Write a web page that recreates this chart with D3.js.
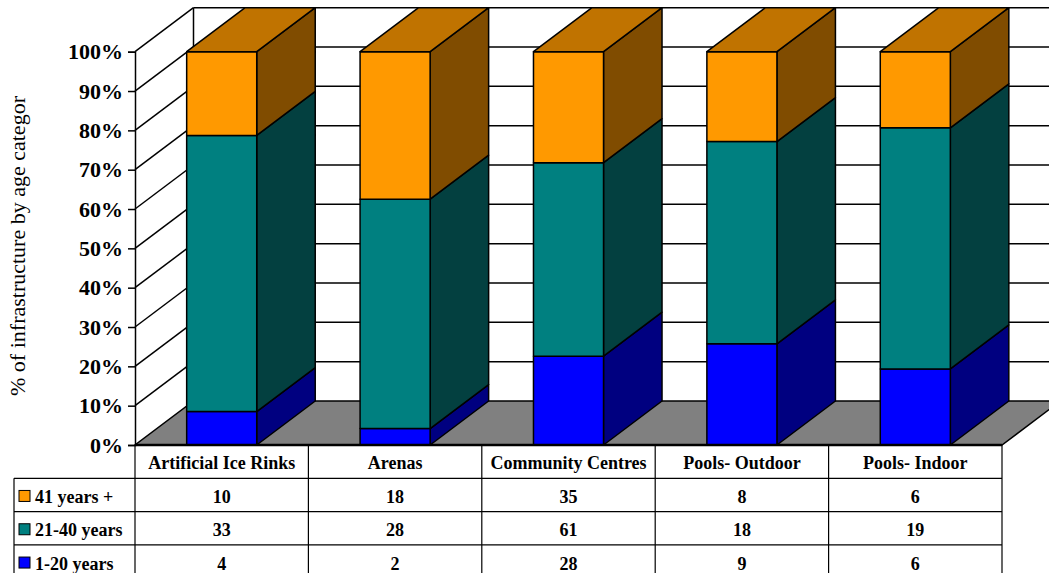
<!DOCTYPE html>
<html>
<head>
<meta charset="utf-8">
<script src="https://cdn.jsdelivr.net/npm/d3@7"></script>
<style>
  body { margin: 0; background: #fff; }
  svg text { font-family: 'Liberation Serif', 'Times New Roman', Times, serif; }
</style>
</head>
<body>
<div id="chart"></div>
<script>
// data
const categories = ["Artificial Ice Rinks", "Arenas", "Community Centres", "Pools- Outdoor", "Pools- Indoor"];
const seriesNames = ["1-20 years", "21-40 years", "41 years +"];
const young = [4, 2, 28, 9, 6];
const middle = [33, 28, 61, 18, 19];
const old = [10, 18, 35, 8, 6];
const yTicks = [0, 0.1, 0.2, 0.3, 0.4, 0.5, 0.6, 0.7, 0.8, 0.9, 1];

// colours: front, side, top
const colors = {
  "1-20 years": ["#0000ff", "#000080", "#0000c0"],
  "21-40 years": ["#008080", "#034040", "#006060"],
  "41 years +": ["#ff9900", "#804c00", "#c07300"]
};

const W = 1049, H = 573,
  pd = { left: 135, right: 1002, top: 51.7, floor: 445 },
  dx = 58.5, dy = -44; // 3d depth offset

const svg = d3.select("#chart").append("svg").attr("width", W).attr("height", H)
  .style("display", "block");

const rows = categories.map((c, i) => ({
  cat: c, "1-20 years": young[i], "21-40 years": middle[i], "41 years +": old[i]
}));
const stacked = d3.stack().keys(seriesNames).offset(d3.stackOffsetExpand)(rows);

const x = d3.scaleBand().domain(categories).range([pd.left, pd.right])
  .paddingInner(0.596).paddingOuter(0.298);
const col = d3.scaleBand().domain(categories).range([pd.left, pd.right]);
const y = d3.scaleLinear().domain([0, 1]).range([pd.floor, pd.top]);

const poly = pts => pts.map(p => p.join(",")).join(" ");

// back wall + left wall gridlines
const walls = svg.append("g").attr("stroke", "#000").attr("stroke-width", 1.5).attr("fill", "none");
yTicks.forEach(t => {
  if (t === 0) return;
  walls.append("line").attr("x1", pd.left).attr("y1", y(t))
    .attr("x2", pd.left + dx).attr("y2", y(t) + dy);
  walls.append("line").attr("x1", pd.left + dx).attr("y1", y(t) + dy)
    .attr("x2", W + 5).attr("y2", y(t) + dy);
});
walls.append("line").attr("x1", pd.left + dx).attr("y1", y(1) + dy)
  .attr("x2", pd.left + dx).attr("y2", y(0) + dy);

// floor
svg.append("polygon")
  .attr("points", poly([[pd.left, y(0)], [pd.right, y(0)], [pd.right + dx, y(0) + dy], [pd.left + dx, y(0) + dy]]))
  .attr("fill", "#808080").attr("stroke", "#000").attr("stroke-width", 1.5);

// bars
const bars = svg.append("g").attr("stroke", "#000").attr("stroke-width", 1.5).attr("stroke-linejoin", "round");
categories.forEach((c, i) => {
  const x0 = x(c), x1 = x0 + x.bandwidth();
  stacked.forEach((s, k) => {
    const y0 = y(s[i][0]), y1 = y(s[i][1]);
    const cl = colors[s.key];
    bars.append("polygon")
      .attr("points", poly([[x1, y0], [x1 + dx, y0 + dy], [x1 + dx, y1 + dy], [x1, y1]]))
      .attr("fill", cl[1]);
    bars.append("rect").attr("x", x0).attr("y", y1)
      .attr("width", x1 - x0).attr("height", y0 - y1).attr("fill", cl[0]);
    if (k === stacked.length - 1) {
      bars.append("polygon")
        .attr("points", poly([[x0, y1], [x0 + dx, y1 + dy], [x1 + dx, y1 + dy], [x1, y1]]))
        .attr("fill", cl[2]);
    }
  });
});

// front axis
const yAxis = d3.axisLeft(y).tickValues(yTicks).tickFormat(d3.format(".0%")).tickSize(7).tickPadding(5);
const ya = svg.append("g").attr("transform", `translate(${pd.left},0)`).call(yAxis);
ya.attr("font-size", 22).attr("font-weight", "bold");
ya.select(".domain").attr("stroke", "#000").attr("stroke-width", 1.5);
ya.selectAll(".tick line").attr("stroke", "#000").attr("stroke-width", 1.5);
ya.selectAll(".tick text").attr("fill", "#000");

svg.append("line").attr("x1", pd.left).attr("x2", pd.right).attr("y1", y(0)).attr("y2", y(0))
  .attr("stroke", "#000").attr("stroke-width", 2.5);

svg.append("text").attr("transform", "translate(25,246) rotate(-90)")
  .attr("text-anchor", "middle").attr("font-size", 22)
  .text("% of infrastructure by age categor");

// data table
const tb = svg.append("g");
const rowH = 33.3, tTop = pd.floor, tLeft = 14;
const tableRows = [
  { name: "41 years +", vals: old },
  { name: "21-40 years", vals: middle },
  { name: "1-20 years", vals: young }
];
const lines = tb.append("g").attr("stroke", "#000").attr("stroke-width", 1.2);
col.domain().forEach(c => {
  lines.append("line").attr("x1", col(c)).attr("x2", col(c)).attr("y1", tTop).attr("y2", H + 10);
});
lines.append("line").attr("x1", pd.right).attr("x2", pd.right).attr("y1", tTop).attr("y2", H + 10);
lines.append("line").attr("x1", tLeft).attr("x2", tLeft).attr("y1", tTop + rowH).attr("y2", H + 10);
tableRows.forEach((r, j) => {
  const yy = tTop + rowH * (j + 1);
  lines.append("line").attr("x1", tLeft).attr("x2", pd.right).attr("y1", yy).attr("y2", yy);
});

const txt = tb.append("g").attr("font-size", 18).attr("font-weight", "bold").attr("fill", "#000");
categories.forEach(c => {
  txt.append("text").attr("x", col(c) + col.bandwidth() / 2).attr("y", tTop + rowH / 2 + 7)
    .attr("text-anchor", "middle").text(c);
});
tableRows.forEach((r, j) => {
  const cy = tTop + rowH * (j + 1.5);
  tb.append("rect").attr("x", 19).attr("y", cy - 4.5).attr("width", 11).attr("height", 11)
    .attr("fill", colors[r.name][0]).attr("stroke", "#000").attr("stroke-width", 1);
  txt.append("text").attr("x", 35).attr("y", cy + 8).text(r.name);
  r.vals.forEach((v, i) => {
    txt.append("text").attr("x", col(categories[i]) + col.bandwidth() / 2).attr("y", cy + 8)
      .attr("text-anchor", "middle").text(v);
  });
});
</script>
</body>
</html>
